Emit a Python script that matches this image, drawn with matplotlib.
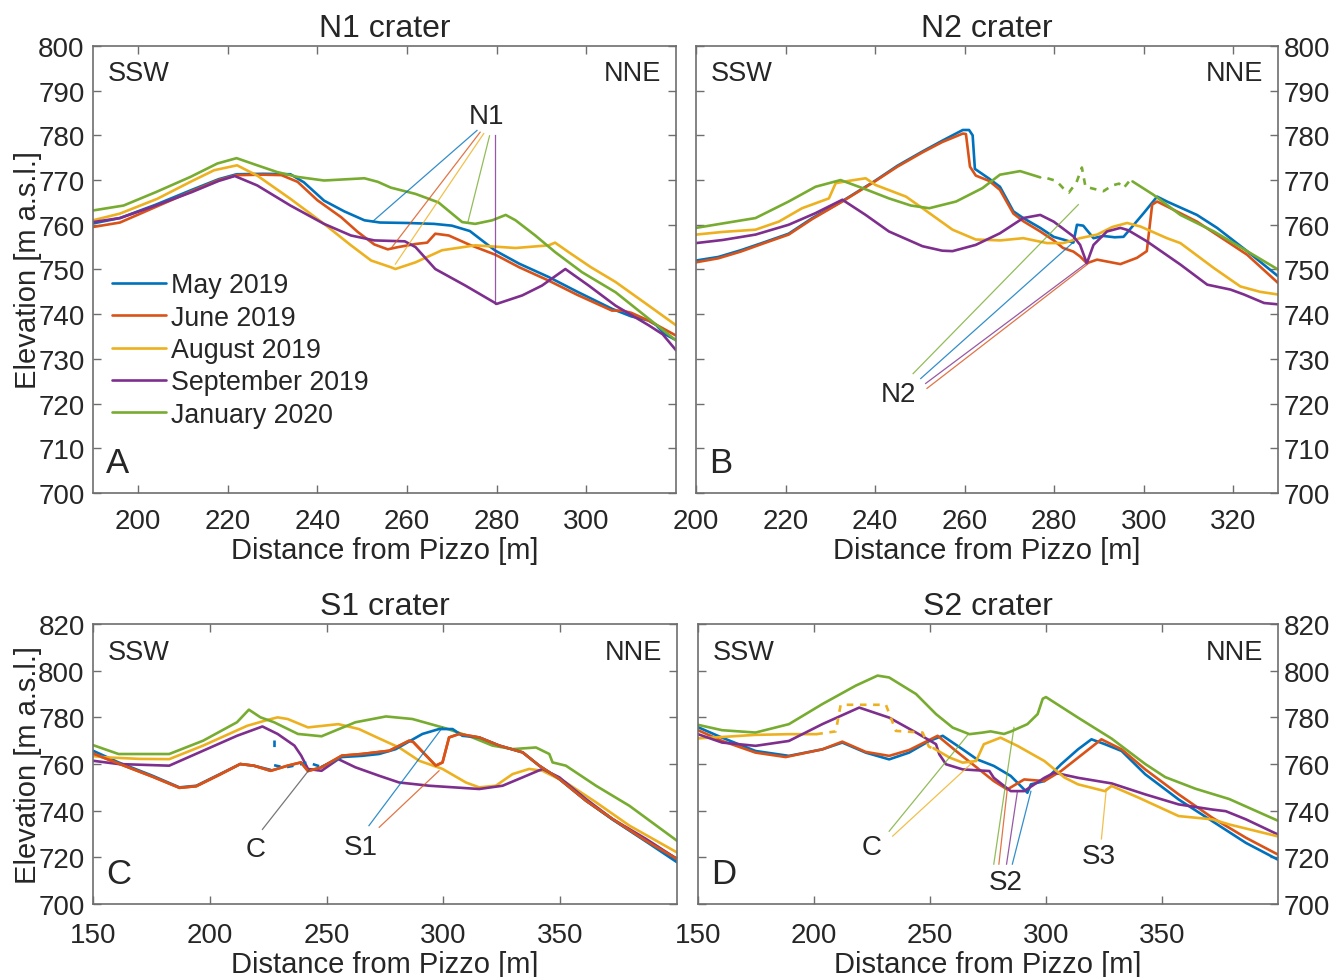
import numpy as np
import matplotlib.pyplot as plt

plt.rcParams['font.family'] = ['Liberation Sans', 'DejaVu Sans']

MONTHS = ['May 2019', 'June 2019', 'August 2019', 'September 2019', 'January 2020']
COLORS = ['#0072BD', '#D95319', '#EDB120', '#7E2F8E', '#77AC30']

# ---- A: N1 crater
a_may = [(190, 760.3), (196, 761.5), (204, 764.5), (212, 767.8), (218, 770.2), (222, 771.3), (228, 771.4),
         (234, 771.3), (237, 769.5), (241.5, 765.4), (246, 763), (250.5, 761), (254, 760.5), (260, 760.4),
         (266, 760.2), (270, 759.8), (274, 758.6), (279.7, 754.2), (285, 751.3), (291.6, 748.3), (298, 745),
         (305.7, 741.2), (310, 739.5), (313.8, 738.6), (315.5, 737.6), (317.5, 735.5), (320, 734.2)]
a_jun = [(190, 759.5), (196, 760.5), (204, 764), (212, 767.5), (218, 770), (222, 771.1), (228, 771.2),
         (232, 771.1), (235.6, 769.6), (240, 765.5), (245.3, 761.7), (249, 758.4), (252.7, 755.6), (255.7, 754.5),
         (258, 755), (261.9, 755.7), (264.5, 756), (266.3, 758), (269.3, 757.6), (274, 755.5), (279.7, 753.3),
         (285, 750.5), (291.6, 747.5), (298, 744.3), (305.7, 740.8), (308, 740.8), (310, 740.3), (314, 738.5),
         (320, 735.2)]
a_aug = [(190, 761), (196, 762.5), (204.3, 765.8), (211.7, 769.6), (217, 772.2), (222.1, 773.3), (226.6, 771),
         (234, 765.8), (241.5, 760.2), (247.5, 755.4), (252, 752), (256.4, 750.5), (257.4, 750.1), (261.9, 751.6),
         (267.8, 754.3), (275.2, 755.4), (284.2, 754.8), (291.6, 755.4), (293, 756), (296, 753.9), (301, 750.5),
         (306.5, 747.2), (313.9, 741.9), (320, 737.5)]
a_sep = [(190, 760.6), (196, 761.5), (204, 764.3), (212, 767.3), (218, 769.8), (221.6, 770.9), (226.6, 768.8),
         (234, 764.3), (241.5, 760.2), (247.5, 757.6), (252.7, 756.5), (256, 756.4), (259.5, 756.3), (261.9, 755),
         (266.3, 750.1), (273, 746.4), (280, 742.3), (285.7, 744.2), (290.1, 746.4), (295.3, 750.1), (300.5, 746.4),
         (306.5, 741.9), (313.9, 737.5), (317, 735.5), (320, 731.9)]
a_jan = [(190, 763.2), (196.8, 764.3), (204, 767.3), (211.7, 770.7), (217.7, 773.7), (222, 774.9), (226.6, 773.3),
         (231, 771.8), (235.6, 770.7), (241.5, 769.9), (250.5, 770.4), (253.5, 769.6), (256.4, 768.3), (261.9, 766.9),
         (267, 765), (272.3, 760.6), (275.2, 760.2), (279, 761), (282, 762.2), (284.2, 761), (288.6, 757.6),
         (293, 753.9), (299, 749.4), (306.5, 744.9), (313, 739.7), (320, 734.1)]
a_marks = [(0, 275.6, 781.1, 252.3, 760.7), (1, 276.3, 780.7, 256.5, 754.8), (2, 277.1, 780.4, 257.4, 751.2),
           (4, 278.4, 779.9, 273.6, 760.7), (3, 279.7, 780.0, 279.7, 742.3)]

# ---- B: N2 crater
b_may = [(200, 752), (205, 752.8), (210, 754.3), (215, 756), (220.7, 758), (226, 761.5), (232.7, 765.3),
         (239.8, 769.7), (245, 773.2), (250.6, 776.4), (255, 778.8), (259.6, 781.2), (261, 781.2), (261.8, 780),
         (262.3, 772.5), (265.5, 770.3), (267.9, 768.5), (270.9, 763), (273.1, 761.5), (276.9, 759.3),
         (279.9, 757.3), (282, 756.7), (284.3, 756), (285.1, 760), (286.5, 759.8), (288.8, 757), (291, 757.5),
         (293.5, 757.2), (295.5, 757.3), (297.8, 760), (300, 762.6), (303, 766.3), (305.2, 765.2), (311.9, 762.2),
         (316.4, 759.3), (323.1, 754.1), (330, 748.5)]
b_jun = [(200, 751.6), (205, 752.5), (210, 754), (215, 755.8), (220.7, 757.8), (226, 761.3), (232.7, 765.2),
         (239.8, 769.6), (245, 773), (250.6, 776.2), (255, 778.5), (259.6, 780.4), (260.3, 780.3), (261.2, 773),
         (262.5, 771), (265.5, 769.8), (267.9, 767.8), (270.9, 762.5), (273.1, 760.8), (276.9, 758.5),
         (279.9, 756.5), (282, 754.8), (284.3, 754), (285.8, 752.9), (287.3, 751.4), (289.6, 752.2), (294.8, 751.2),
         (298.5, 752.6), (300.7, 754.1), (301.9, 764.5), (303, 765.2), (305.2, 764.1), (311.9, 760.7),
         (323.1, 753.3), (330, 747)]
b_aug = [(200, 757.8), (206, 758.4), (213.3, 758.9), (218.5, 760.7), (223.7, 763.7), (229.7, 765.9), (231.2, 769.3),
         (234, 769.8), (237.9, 770.4), (240.1, 768.9), (246.9, 766.3), (250.6, 763.7), (257.3, 758.9), (262.5, 756.7),
         (268, 756.5), (273.1, 757), (278.4, 755.9), (282, 755.9), (285.8, 757), (289.6, 757.8), (293, 759.5),
         (296.3, 760.4), (299.3, 759.6), (305.2, 757), (308.2, 755.9), (315.7, 750.3), (321.6, 746.2), (326, 745),
         (330, 744.4)]
b_sep = [(200, 755.9), (206, 756.6), (213.3, 757.8), (220.7, 760), (226.7, 762.6), (232.7, 765.6), (237.9, 762.2),
         (243.1, 758.5), (250.6, 755.2), (255, 754.2), (257.3, 754.1), (262.5, 755.5), (267.9, 758.1), (273.1, 761.5),
         (276.9, 762.2), (279.9, 760.7), (284.3, 757.4), (285.8, 755.5), (287.3, 751.4), (288.8, 755.5),
         (291.8, 758.5), (294.8, 759.3), (296.5, 758.8), (300.7, 756.3), (308.2, 751.1), (314.2, 746.6),
         (319.4, 745.5), (322.4, 744.4), (326.9, 742.5), (330, 742.2)]
b_jan = [(200, 759.3), (206, 760.3), (213.3, 761.5), (220.7, 765.2), (226.7, 768.5), (232.3, 770), (237.2, 768.2),
         (243.1, 765.9), (248, 764.3), (252.1, 763.7), (258.1, 765.2), (264, 768.2), (267.9, 771.2), (272.4, 772),
         (276.9, 770.6)]
b_jan_gap = [(278.5, 770.4), (280.5, 769.8), (282, 768.2), (283.3, 767.2), (285, 769.5), (286.2, 772.8),
             (287, 768.5), (289, 768), (291, 767.5), (293, 768.8), (294.5, 769.2), (295.5, 768.2), (297, 770)]
b_jan2 = [(297.5, 769.7), (302.2, 766.7), (308.2, 762.2), (315.7, 758.5), (323.1, 754.1), (330, 750)]
b_marks = [(4, 248.5, 726.7, 285.4, 764.5), (0, 250.2, 725.6, 284.3, 756.1), (3, 251.3, 724.5, 287.2, 751.4),
           (1, 251.6, 723.4, 287.5, 751.2)]

# ---- C: S1 crater
c_may = [(150, 765.7), (160.9, 760.7), (175.4, 755), (187, 750), (194.2, 750.7), (204.3, 755.7), (213, 760),
         (218.8, 759.3), (226, 757.5)]
c_may_gap1 = [(227.3, 770.5), (227.3, 765)]
c_may_gap2 = [(227.5, 759.5), (232, 758.5), (237, 759.5), (241, 760.5), (244, 760), (247, 759)]
c_may2 = [(247.8, 758.8), (256.5, 763.0), (265, 763.5), (272.4, 764.3), (279.6, 766.4), (285, 769.5), (291, 772.9),
          (298.1, 775), (303.9, 775), (308.1, 772.1), (315.3, 771.4), (323.9, 767.9), (333.9, 765), (341, 759.3),
          (349.6, 753.6), (361, 744.3), (372.4, 736.2), (386.7, 726.8), (400, 717.9)]
c_jun = [(150, 764.5), (160.9, 760.2), (175.4, 754.6), (187, 749.8), (194.2, 750.5), (204.3, 755.5), (213, 760),
         (218.8, 759.3), (226, 757.1), (229, 758), (233.3, 759.3), (239, 760.7), (242, 757), (247.8, 758.6),
         (256.5, 763.6), (265, 764.3), (276.8, 765.7), (285.3, 770), (287, 769.5), (296.7, 759.3), (299.6, 760.7),
         (302.4, 771.4), (306.7, 772.9), (315.3, 771.4), (323.9, 767.9), (333.9, 765), (341, 759.3), (349.6, 753.6),
         (361, 744.3), (372.4, 736.4), (386.7, 727.1), (400, 719.3)]
c_aug = [(150, 763.4), (155, 762.9), (170, 762.2), (182.6, 762.1), (197.1, 767.9), (216, 776.4), (225, 779),
         (229, 780), (233.3, 779.3), (242, 775.7), (255, 777.1), (263.8, 775), (272.4, 771), (281, 767.1),
         (289.6, 761.4), (299.6, 757.9), (309.6, 752.1), (315.3, 750), (322.4, 750.7), (329.6, 755.7),
         (336.7, 757.9), (342.4, 757.1), (352.4, 752.1), (365.3, 743.6), (379.6, 733.6), (400, 722.1)]
c_sep = [(150, 761.4), (160.9, 760), (182.6, 759.3), (197.1, 765.7), (211.6, 772.1), (222.5, 776.1), (229, 772.9),
         (236.2, 767.9), (239.1, 763.6), (242, 757.9), (247.8, 757.1), (255, 762.1), (262.3, 758.6), (272.4, 755),
         (281, 752.1), (293.9, 750.7), (315.3, 749.3), (325.3, 750.7), (333.9, 754.3), (342.4, 757.9),
         (349.6, 754.3), (361, 745), (372.4, 736.4), (386.7, 727.9), (400, 719.3)]
c_jan = [(150, 768.1), (160.9, 764.3), (182.6, 764.3), (197.1, 770), (211.6, 777.9), (216.7, 783.3), (221.7, 780),
         (227.5, 777.9), (237.7, 772.9), (247.8, 771.9), (262.3, 777.9), (275.4, 780.4), (286.7, 779.3),
         (301, 775.3), (312.4, 771.4), (321, 767.9), (329.6, 766.4), (339.6, 767.1), (345.3, 764.3), (346.7, 760.7),
         (352.4, 759.3), (365.3, 750.7), (379.6, 742.1), (400, 727.1)]
c_marks = [(None, 222.5, 732.0, 242.8, 757.9), (0, 268.1, 733.6, 299.6, 775.7), (1, 272.5, 732.9, 298.1, 757.1)]

# ---- D: S2 crater
d_may = [(150, 775.8), (160.4, 771.3), (174.8, 765.6), (189.2, 763.5), (203.6, 766.3), (212.2, 769.2),
         (222.3, 764.9), (232.4, 762), (241, 764.9), (249.7, 769.9), (255.5, 772.1), (264.1, 766.3), (270.3, 762),
         (277.5, 759.2), (284.8, 754.9), (292, 747.7), (293.5, 751.3), (299.3, 752.7), (306.5, 759.9),
         (313.8, 766.3), (319.6, 770.6), (325.4, 768.5), (332.6, 765.6), (342.8, 755.6), (357.2, 744.8),
         (371.7, 735.5), (386.2, 726.2), (400, 719)]
d_jun = [(150, 774.5), (160.4, 769.9), (174.8, 764.9), (187.8, 763), (203.6, 766.3), (212.2, 769.6), (222.3, 765.2),
         (232.4, 763.5), (241, 766), (253.3, 772.1), (261.2, 765.6), (270.3, 758.4), (277.5, 752.7), (283.3, 749.1),
         (290.6, 753.4), (299.3, 752.7), (306.5, 757), (323.9, 770.6), (332.6, 766.3), (342.8, 757.7),
         (357.2, 747), (371.7, 737), (386.2, 728.4), (400, 721.2)]
d_aug = [(150, 771), (160.4, 771.6), (174.8, 772.5), (189.2, 772.8), (201, 772.8)]
d_aug_gap = [(201, 772.8), (209.4, 774), (211.5, 785.4), (231, 785.4), (235.3, 774.2), (246.8, 773.5),
             (249.5, 767.5), (251.5, 766.5)]
d_aug2 = [(251.5, 766.8), (258.4, 762.8), (264.1, 760.6), (269.9, 761.3), (273.2, 768.5), (280.4, 771.3),
          (287.7, 767.8), (299.3, 761.3), (308, 754.2), (313.8, 751.3), (325.4, 748.4), (328.3, 750.6),
          (339.9, 745.6), (357.2, 737.7), (371.7, 736.3), (379, 734.1), (400, 729)]
d_sep = [(150, 772.8), (160.4, 769.2), (174.8, 767.8), (189.2, 769.9), (203.6, 777.1), (219.5, 784.2),
         (232.4, 779.9), (244, 773.5), (252.6, 768.5), (254, 764.2), (256.9, 759.9), (264.1, 757.7), (275.6, 757),
         (277.5, 754.1), (284.8, 748.4), (290.6, 748.4), (299.3, 754.1), (303.6, 756.3), (313.8, 754.1),
         (328.3, 751.7), (342.8, 747), (357.2, 742.7), (371.7, 740.5), (377.5, 739.8), (386.2, 736.3), (400, 729.8)]
d_jan = [(150, 776.8), (160.4, 774.5), (174.8, 773.5), (189.2, 777.1), (203.6, 785.7), (218, 793.6),
         (227.4, 797.9), (232.4, 797.1), (244, 790), (252.6, 781.4), (259.8, 775.6), (267, 772.8), (272.8, 773.5),
         (276.1, 774), (281.9, 772.9), (285, 774), (292, 777.1), (296.4, 781.4), (298.6, 788), (300, 788.7),
         (313.8, 779.9), (328.3, 770.9), (342.8, 760), (351.4, 754.4), (364.5, 749.4), (379, 745), (400, 735.7)]
d_marks = [(4, 232.4, 731.2, 266.3, 772.5), (2, 233.9, 729.1, 269.8, 762.0),
           (4, 277.5, 717.1, 286.2, 775.7), (1, 279.7, 717.1, 283.3, 749.0),
           (3, 283.0, 717.1, 287.7, 748.3), (0, 285.5, 717.1, 293.5, 748.3),
           (2, 323.9, 727.9, 326.0, 749.3), (2, 326.0, 749.3, 328.0, 750.6)]

TXT = '#262626'
EDGE = '#6e6e6e'


def line(ax, pts, c, ls='-', lw=1.9, label=None):
    p = np.array(pts)
    ax.plot(p[:, 0], p[:, 1], color=COLORS[c], ls=ls, lw=lw, label=label, solid_capstyle='round')


def marks(ax, items):
    for c, x0, y0, x1, y1 in items:
        col = '#555555' if c is None else COLORS[c]
        ax.plot([x0, x1], [y0, y1], color=col, lw=0.9, alpha=0.8)


def setup(ax, xlim, ylim, xticks, yticks, title, letter, right=False, small=False):
    ax.set_xlim(xlim)
    ax.set_ylim(ylim)
    ax.set_xticks(xticks)
    ax.set_yticks(yticks)
    ax.tick_params(direction='in', top=True, right=True, length=6, width=1, color=EDGE,
                   labelcolor=TXT, labelsize=20, pad=6)
    ax.tick_params(axis='x', pad=13 if small else 11)
    if right:
        ax.tick_params(axis='y', labelleft=False, labelright=True, pad=4)
    else:
        ax.set_ylabel('Elevation [m a.s.l.]', fontsize=21, color=TXT, labelpad=-3)
    for s in ax.spines.values():
        s.set_color(EDGE)
        s.set_linewidth(1.2)
    ax.set_title(title, fontsize=23, color=TXT, pad=7)
    ax.set_xlabel('Distance from Pizzo [m]', fontsize=21, color=TXT, labelpad=1.5)
    ty = 0.945 if small else 0.968
    ax.text(0.026, ty, 'SSW', transform=ax.transAxes, fontsize=19.5, color=TXT, va='top', ha='left')
    ax.text(0.974, ty, 'NNE', transform=ax.transAxes, fontsize=19.5, color=TXT, va='top', ha='right')
    ly = 0.05 if small else 0.032
    ax.text(0.022, ly, letter, transform=ax.transAxes, fontsize=25, color=TXT, va='bottom', ha='left')


fig = plt.figure(figsize=(13.41, 9.78), dpi=100)
axA = fig.add_axes([0.0694, 0.4949, 0.4348, 0.4571])
axB = fig.add_axes([0.5190, 0.4949, 0.4340, 0.4571])
axC = fig.add_axes([0.0694, 0.0746, 0.4355, 0.2863])
axD = fig.add_axes([0.5205, 0.0746, 0.4325, 0.2863])

# A
for i, s in enumerate([a_may, a_jun, a_aug, a_sep, a_jan]):
    line(axA, s, i, label=MONTHS[i])
marks(axA, a_marks)
axA.text(277.7, 784.4, 'N1', fontsize=20, color=TXT, ha='center', va='center')
setup(axA, (190, 320), (700, 800), np.arange(200, 301, 20), np.arange(700, 801, 10), 'N1 crater', 'A')
axA.legend(loc='upper left', bbox_to_anchor=(0.0326, 0.494), frameon=False, fontsize=19.3,
           handlelength=2.0, handletextpad=0.19, labelspacing=0.24, borderaxespad=0, borderpad=0,
           labelcolor=TXT)

# B
for i, s in enumerate([b_may, b_jun, b_aug, b_sep, b_jan]):
    line(axB, s, i)
line(axB, b_jan_gap, 4, ls=(0, (2.5, 2.5)))
line(axB, b_jan2, 4)
marks(axB, b_marks)
axB.text(245.3, 722.2, 'N2', fontsize=20, color=TXT, ha='center', va='center')
setup(axB, (200, 330), (700, 800), np.arange(200, 321, 20), np.arange(700, 801, 10), 'N2 crater', 'B',
      right=True)

# C
for i, s in enumerate([c_may, c_jun, c_aug, c_sep, c_jan]):
    line(axC, s, i)
line(axC, c_may_gap1, 0, ls=(0, (2.5, 2.5)))
line(axC, c_may_gap2, 0, ls=(0, (2.5, 2.5)))
line(axC, c_may2, 0)
line(axC, c_jun, 1)
marks(axC, c_marks)
axC.text(219.4, 723.5, 'C', fontsize=20, color=TXT, ha='center', va='center')
axC.text(264.7, 724.3, 'S1', fontsize=20, color=TXT, ha='center', va='center')
setup(axC, (150, 400), (700, 820), np.arange(150, 351, 50), np.arange(700, 821, 20), 'S1 crater', 'C',
      small=True)

# D
for i, s in enumerate([d_may, d_jun, d_aug, d_sep, d_jan]):
    line(axD, s, i)
line(axD, d_aug_gap, 2, ls=(0, (2.5, 2.5)))
line(axD, d_aug2, 2)
marks(axD, d_marks)
axD.text(225.0, 724.3, 'C', fontsize=20, color=TXT, ha='center', va='center')
axD.text(282.6, 709.3, 'S2', fontsize=20, color=TXT, ha='center', va='center')
axD.text(322.7, 720.4, 'S3', fontsize=20, color=TXT, ha='center', va='center')
setup(axD, (150, 400), (700, 820), np.arange(150, 351, 50), np.arange(700, 821, 20), 'S2 crater', 'D',
      right=True, small=True)

fig.savefig('out.png', dpi=100, facecolor='white')
